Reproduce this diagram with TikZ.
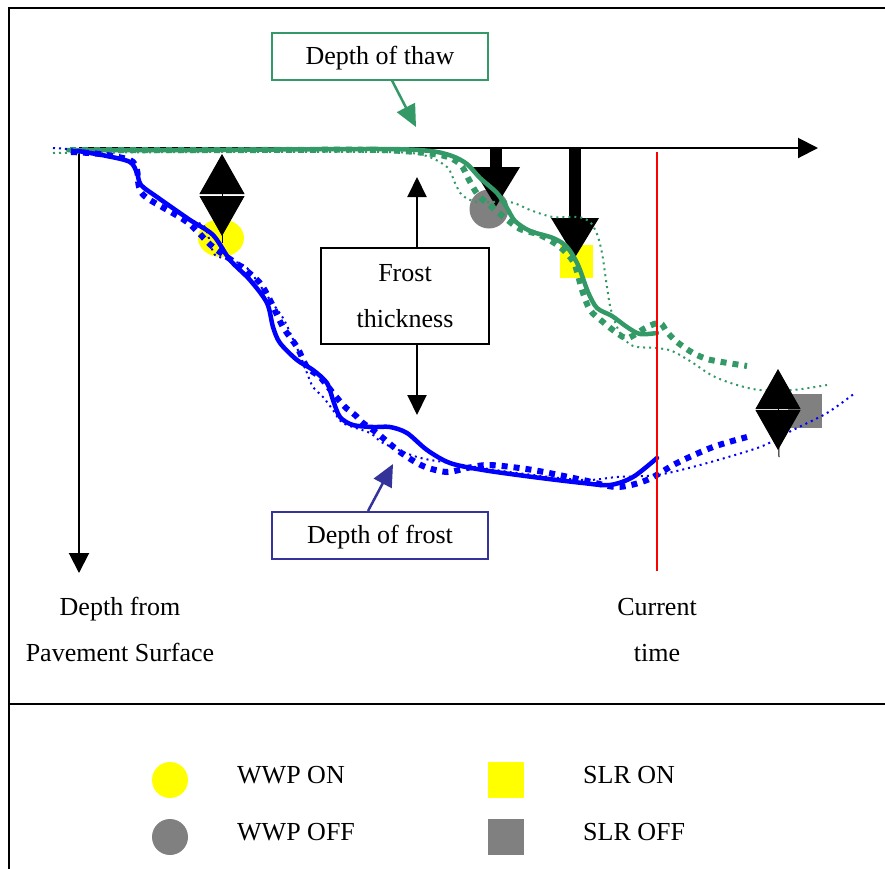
\documentclass[tikz,border=0pt]{standalone}
\usepackage{fontspec}
\setmainfont{Liberation Serif}
\usetikzlibrary{arrows.meta}
\definecolor{thawgreen}{RGB}{51,153,102}
\definecolor{frostblue}{RGB}{0,0,255}
\definecolor{labelblue}{RGB}{51,51,153}
\definecolor{markgray}{RGB}{128,128,128}
\definecolor{markyellow}{RGB}{255,255,0}
\definecolor{nowred}{RGB}{255,0,0}

\begin{document}
\begin{tikzpicture}[x=1pt,y=-1pt,
  font=\fontsize{26}{46}\selectfont,
  frame/.style={line width=2pt},
  axis/.style={line width=2pt,-{Triangle[length=20pt,width=20pt]}},
  thin arrow/.style={line width=2pt,-{Triangle[length=20pt,width=19pt]}},
  pointer/.style={line width=2.5pt,-{Triangle[length=22pt,width=20pt]}},
  labelbox/.style={draw,line width=2pt,minimum width=216pt,minimum height=47pt,inner sep=0pt,text height=18pt,text depth=2pt},
  heavy arrow/.style={line width=12pt,-{Triangle[length=40pt,width=45pt]}},
  double head/.style={line width=1pt,{Triangle[length=40pt,width=45pt]}-{Triangle[length=40pt,width=45pt]}},
  solidcurve/.style={line width=4.5pt,line cap=round,line join=round},
  dashcurve/.style={line width=6pt,dash pattern=on 6pt off 6pt},
  dotcurve/.style={line width=2pt,dash pattern=on 2pt off 4pt},
  curve/.style={smooth,tension=0.5}]

\useasboundingbox (0,0) rectangle (885,868);

% outer frame and legend divider
\draw[frame] (9,872) -- (9,8) -- (889,8);
\draw[frame] (9,704) -- (889,704);

% markers in the plot
\fill[markyellow] (221,238) ellipse [x radius=23pt,y radius=19pt];
\fill[markgray] (489,209) circle [radius=19.5pt];
\fill[markyellow] (560,245) rectangle (593,278);
\fill[markgray] (788,394) rectangle (822,428);

% axes
\coordinate (origin) at (79,148);
\coordinate (timeend) at (818,148);
\coordinate (depthend) at (79,573);
\draw[axis] (origin) -- (timeend);
\draw[axis] (origin) -- (depthend);

% heavy downward arrows from the surface
\coordinate (h1s) at (496,148);
\coordinate (h1e) at (496,207);
\coordinate (h2s) at (575,148);
\coordinate (h2e) at (575,258);
\draw[heavy arrow] (h1s) -- (h1e);
\draw[heavy arrow] (h2s) -- (h2e);

% thaw curves
\draw[thawgreen,dotcurve] plot[curve] coordinates {(53,153) (200,152) (380,152) (423,155) (447,167) (455,183) (462,195) (477,202) (510,202) (530,210) (553,217) (578,217) (590,222) (597,234) (602,253) (607,287) (611,310) (620,333) (633,346) (657,348) (672,351) (690,361) (713,376) (737,385) (760,390) (793,390) (827,385)};
\draw[thawgreen,dashcurve] plot[curve] coordinates {(70,150) (250,150) (380,150) (440,155) (460,164) (468,178) (478,195) (492,207) (505,218) (520,229) (540,235) (560,247) (574,263) (582,290) (590,310) (603,322) (617,333) (628,338) (647,327) (660,323) (667,332) (677,342) (693,353) (707,359) (722,362) (747,366)};
\draw[thawgreen,solidcurve] plot[curve] coordinates {(68,150) (200,150) (380,149) (430,151) (452,156) (467,164) (480,178) (497,193) (507,208) (515,221) (530,231) (553,238) (567,247) (578,265) (588,292) (597,308) (612,316) (627,327) (640,334) (657,333)};

% frost curves
\draw[frostblue,dotcurve] plot[curve] coordinates {(53,148) (78,150) (107,156) (130,162) (137,173) (141,185) (157,197) (187,218) (204,226) (210,242) (215,255) (230,260) (247,268) (268,297) (283,318) (292,337) (300,355) (307,373) (313,387) (323,397) (333,410) (343,423) (370,433) (383,443) (417,457) (450,463) (517,473) (583,480) (617,477) (657,475) (700,465) (760,447) (793,430) (827,413) (855,393)};
\draw[frostblue,dashcurve] plot[curve] coordinates {(71,152) (100,154) (130,160) (137,170) (139,187) (147,198) (187,222) (213,247) (243,268) (260,283) (270,300) (283,327) (297,347) (307,367) (320,377) (333,393) (345,407) (355,415) (363,423) (377,433) (400,452) (423,466) (447,472) (467,468) (490,465) (533,470) (583,480) (617,487) (647,480) (677,463) (713,447) (747,437)};
\draw[frostblue,solidcurve] plot[curve] coordinates {(78,151) (107,156) (130,162) (137,173) (141,185) (157,197) (190,220) (213,235) (230,260) (250,280) (267,303) (273,327) (280,343) (297,360) (313,370) (327,383) (333,400) (340,417) (353,425) (373,427) (390,427) (407,433) (427,450) (450,463) (483,470) (533,477) (583,483) (610,485) (633,477) (657,458)};

% double-headed marks
\coordinate (d1t) at (222,154);
\coordinate (d1b) at (222,236);
\coordinate (d1s) at (222,243);
\draw[line width=1pt] (222,195) -- (d1s);
\draw[double head] (d1t) -- (d1b);
\coordinate (d2t) at (778,369);
\coordinate (d2b) at (778,450);
\coordinate (d2s) at (779,457);
\draw[line width=1pt] (778,410) -- (d2s);
\draw[double head] (d2t) -- (d2b);

% current time line
\coordinate (nowtop) at (657,152);
\coordinate (nowbot) at (657,571);
\draw[nowred,line width=1.5pt] (nowtop) -- (nowbot);

% labels with pointers
\node[labelbox,draw=thawgreen] (thaw) at (380,56) {Depth of thaw};
\coordinate (thawtip) at (416,127);
\draw[pointer,thawgreen] ([xshift=12pt]thaw.south) -- (thawtip);

\node[labelbox,draw=labelblue] (frost) at (380,535.5) {Depth of frost};
\coordinate (frosttip) at (393,464);
\draw[pointer,labelblue] ([xshift=-12pt]frost.north) -- (frosttip);

\node[draw,line width=2pt,minimum width=168pt,minimum height=96pt,align=center,inner sep=0pt] (thick) at (405,296) {Frost\\thickness};
\coordinate (thickup) at (417,177);
\coordinate (thickdown) at (417,415);
\draw[thin arrow] ([xshift=12pt]thick.north) -- (thickup);
\draw[thin arrow] ([xshift=12pt]thick.south) -- (thickdown);

% axis captions
\node[anchor=base,inner sep=0pt] (dep1) at (120,615) {Depth from};
\node[anchor=base,inner sep=0pt] (dep2) at (120,661) {Pavement Surface};
\node[anchor=base,inner sep=0pt] (cur1) at (657,615) {Current};
\node[anchor=base,inner sep=0pt] (cur2) at (657,661) {time};

% legend
\fill[markyellow] (170,780) circle [radius=18pt];
\fill[markgray] (170,837) circle [radius=18pt];
\fill[markyellow] (488,762) rectangle (524,798);
\fill[markgray] (488,819) rectangle (524,855);
\node[anchor=base west,inner sep=0pt] (wwpon) at (237,783) {WWP ON};
\node[anchor=base west,inner sep=0pt] (wwpoff) at (237,840) {WWP OFF};
\node[anchor=base west,inner sep=0pt] (slron) at (583,783) {SLR ON};
\node[anchor=base west,inner sep=0pt] (slroff) at (583,840) {SLR OFF};
\end{tikzpicture}
\end{document}
